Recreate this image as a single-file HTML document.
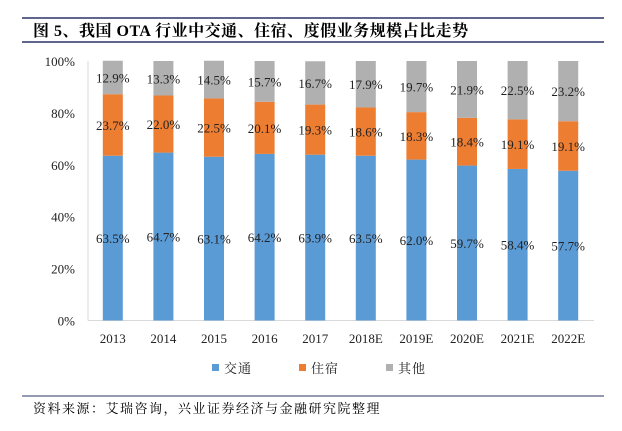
<!DOCTYPE html>
<html><head><meta charset="utf-8"><style>
body{margin:0;background:#fff;width:622px;height:426px;overflow:hidden;font-family:"Liberation Serif","Noto Serif CJK SC",serif;}
</style></head><body>
<svg width="622" height="426" xmlns="http://www.w3.org/2000/svg">
<line x1="22" y1="18" x2="604" y2="18" stroke="#2b3366" stroke-width="1.5"/>
<line x1="22" y1="42" x2="604" y2="42" stroke="#2b3366" stroke-width="1.5"/>
<text x="33" y="36" font-size="16" font-weight="bold" fill="#000" letter-spacing="0.5" font-family="'Liberation Serif','Noto Serif CJK SC',serif">图 5、我国 OTA 行业中交通、住宿、度假业务规模占比走势</text>
<g id="plot"></g>
<line x1="22" y1="396" x2="604" y2="396" stroke="#2b3366" stroke-width="1"/>
<text x="33" y="413" font-size="13" letter-spacing="1.5" fill="#000" font-family="'Noto Serif CJK SC',serif">资料来源：艾瑞咨询，兴业证券经济与金融研究院整理</text>
</svg>
<script>
const categories=["2013","2014","2015","2016","2017","2018E","2019E","2020E","2021E","2022E"];
const transport=[63.5,64.7,63.1,64.2,63.9,63.5,62.0,59.7,58.4,57.7];
const hotel=[23.7,22.0,22.5,20.1,19.3,18.6,18.3,18.4,19.1,19.1];
const other=[12.9,13.3,14.5,15.7,16.7,17.9,19.7,21.9,22.5,23.2];
const yTicks=[0,20,40,60,80,100];
const seriesNames=["交通","住宿","其他"];
const colors=["#5b9bd5","#ed7d31","#b0b0b0"];
const NS="http://www.w3.org/2000/svg";
const g=document.getElementById('plot');
const x0=88,x1=594,yBase=320.5,yTop=61;
const y=v=>yBase-(v/100)*(yBase-yTop);
const band=(x1-x0)/categories.length;
const xc=i=>x0+band*(i+0.5)-0.5;
const bw=20;
function mk(tag,a){const e=document.createElementNS(NS,tag);for(const k in a)e.setAttribute(k,a[k]);g.appendChild(e);return e;}
let ax=mk('line',{x1:x0,y1:yTop,x2:x0,y2:yBase,stroke:'#d9d9d9'});


let bx=mk('line',{x1:x0,y1:yBase,x2:x1,y2:yBase,stroke:'#d9d9d9'});


yTicks.forEach(t=>{const e=mk('text',{x:75,y:y(t)+5,'font-size':13,'text-anchor':'end',fill:'#222'});e.textContent=t+'%';

});
const series=[transport,hotel,other];
categories.forEach((c,i)=>{
 let acc=0;
 series.forEach((s,k)=>{
  const v=s[i];
  const r=mk('rect',{x:xc(i)-bw/2,y:y(acc+v),width:bw,height:y(acc)-y(acc+v),fill:colors[k]});
  
  
  const t=mk('text',{x:xc(i),y:y(acc+v/2)+5,'font-size':13,'text-anchor':'middle',fill:'#222'});
  t.textContent=v.toFixed(1)+'%';
  
  
  acc+=v;
 });
 const xl=mk('text',{x:xc(i),y:343,'font-size':13,'text-anchor':'middle',fill:'#222'});
 xl.textContent=c;
 
 
});
const lx=[212,299,386];
seriesNames.forEach((n,k)=>{
 const r=mk('rect',{x:lx[k],y:364,width:7,height:7,fill:colors[k]});
 
 
 const t=mk('text',{x:lx[k]+12,y:373,'font-size':13,fill:'#222','letter-spacing':1,'font-family':"'Noto Serif CJK SC',serif"});
 t.textContent=n;
 
 
});
</script>
</body></html>
